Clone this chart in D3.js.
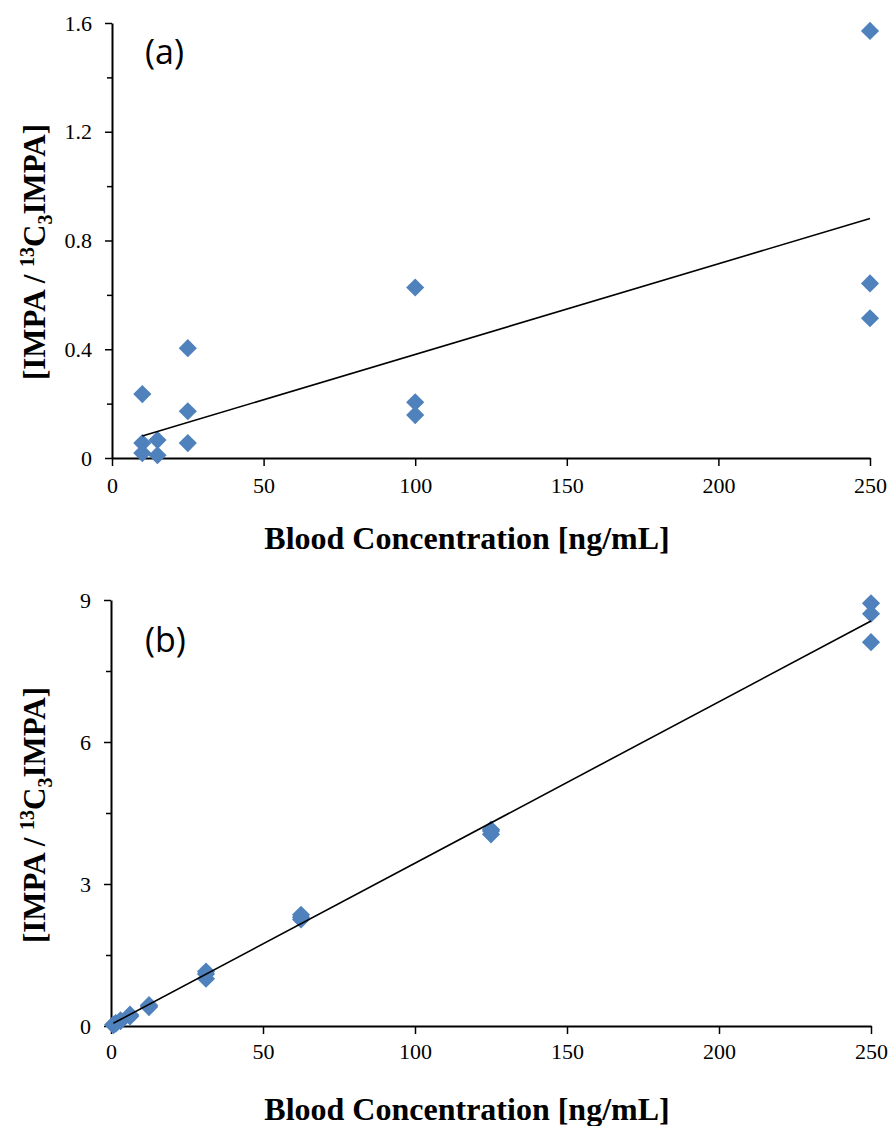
<!DOCTYPE html>
<html>
<head>
<meta charset="utf-8">
<script src="https://cdn.jsdelivr.net/npm/d3@7"></script>
<style>
  body { margin: 0; background: #fff; }
  svg { display: block; }
</style>
</head>
<body>
<svg id="chart"></svg>
<script>
// panel (a) values
const concA = [10, 10, 10, 15, 15, 25, 25, 25, 100, 100, 100, 250, 250, 250];
const ratioA = [0.235, 0.055, 0.018, 0.066, 0.01, 0.404, 0.172, 0.055, 0.627, 0.205, 0.158, 1.571, 0.642, 0.514];
const fitA = [0.003333, 0.0477];     // slope, intercept
const fitRangeA = [10, 250];
const yTicksA = [0, 0.4, 0.8, 1.2, 1.6];
const yMinorA = [0.2, 0.6, 1.0, 1.4];
const yLabelsA = ["0", "0.4", "0.8", "1.2", "1.6"];

// panel (b) values
const concB = [0.78, 0.78, 1.56, 1.56, 3.125, 3.125, 6.25, 6.25, 6.25, 12.5, 12.5, 12.5,
  31.25, 31.25, 31.25, 62.5, 62.5, 62.5, 125, 125, 125, 250, 250, 250];
const ratioB = [0.02, 0.03, 0.05, 0.06, 0.1, 0.12, 0.2, 0.22, 0.24, 0.4, 0.42, 0.44,
  1.0, 1.1, 1.15, 2.25, 2.3, 2.35, 4.05, 4.12, 4.15, 8.93, 8.71, 8.11];
const fitB = [0.0341, 0.03];
const fitRangeB = [0.78, 250];
const yTicksB = [0, 3, 6, 9];
const yMinorB = [1.5, 4.5, 7.5];
const yLabelsB = ["0", "3", "6", "9"];

const xTicks = [0, 50, 100, 150, 200, 250];

const serifFont = "'Liberation Serif', 'Times New Roman', serif";
const W = 892, H = 1126;
const svg = d3.select("#chart").attr("width", W).attr("height", H);

const panels = [
  { tag: "(a)", conc: concA, ratio: ratioA, fit: fitA, fitRange: fitRangeA,
    yTicks: yTicksA, yMinor: yMinorA, yLabels: yLabelsA, yMax: 1.6,
    xr: [112, 870], yr: [458, 23], tagY: 64, xTitleY: 549, yTitleY: 252, xPad: 11 },
  { tag: "(b)", conc: concB, ratio: ratioB, fit: fitB, fitRange: fitRangeB,
    yTicks: yTicksB, yMinor: yMinorB, yLabels: yLabelsB, yMax: 9,
    xr: [111, 871], yr: [1026, 600], tagY: 652, xTitleY: 1120, yTitleY: 815, xPad: 9 }
];

function styleTicks(s) {
  s.attr("font-family", serifFont).attr("font-size", 22);
  s.selectAll("text")
    .attr("font-family", serifFont)
    .attr("font-size", 22)
    .style("font-family", serifFont)
    .style("font-size", "22px")
    .attr("fill", "#000");
  s.selectAll("line").attr("stroke", "#000").attr("stroke-width", 1.5);
  s.select(".domain").attr("stroke", "#000").attr("stroke-width", 2);
}

panels.forEach(p => {
  const x = d3.scaleLinear().domain([0, 250]).range(p.xr);
  const y = d3.scaleLinear().domain([0, p.yMax]).range(p.yr);
  const g = svg.append("g");

  // minor y ticks
  g.append("g")
    .attr("transform", `translate(${p.xr[0]},0)`)
    .call(d3.axisLeft(y).tickValues(p.yMinor).tickSize(5).tickSizeOuter(0).tickFormat(""))
    .call(styleTicks)
    .call(s => s.select(".domain").remove());

  // y axis
  const yAxis = g.append("g")
    .attr("transform", `translate(${p.xr[0]},0)`)
    .call(d3.axisLeft(y).tickValues(p.yTicks).tickSize(7).tickSizeOuter(0).tickPadding(13)
      .tickFormat((d, i) => p.yLabels[i]));
  styleTicks(yAxis);

  // x axis
  const xAxis = g.append("g")
    .attr("transform", `translate(0,${p.yr[0]})`)
    .call(d3.axisBottom(x).tickValues(xTicks).tickSize(8).tickSizeOuter(0).tickPadding(p.xPad));
  styleTicks(xAxis);

  // points
  g.selectAll(".pt")
    .data(p.conc.map((c, i) => [c, p.ratio[i]]))
    .join("path")
    .attr("class", "pt")
    .attr("d", d3.symbol(d3.symbolSquare, 165))
    .attr("transform", d => `translate(${x(d[0])},${y(d[1])}) rotate(45)`)
    .attr("fill", "#4f81bd");

  // fitted line
  const line = d3.line().x(d => x(d)).y(d => y(p.fit[0] * d + p.fit[1]));
  g.append("path")
    .attr("d", line(p.fitRange))
    .attr("fill", "none")
    .attr("stroke", "#000")
    .attr("stroke-width", 1.6);

  // panel tag
  g.append("text")
    .attr("x", 145).attr("y", p.tagY)
    .style("font-family", "'Open Sans', 'Noto Sans', sans-serif")
    .style("font-size", "34px")
    .text(p.tag);

  // x title
  g.append("text")
    .attr("x", 467).attr("y", p.xTitleY)
    .attr("text-anchor", "middle")
    .style("font-family", serifFont)
    .style("font-weight", "bold")
    .style("font-size", "32px")
    .text("Blood Concentration [ng/mL]");

  // y title
  const yt = g.append("text")
    .attr("transform", `translate(45,${p.yTitleY}) rotate(-90)`)
    .attr("text-anchor", "middle")
    .style("font-family", serifFont)
    .style("font-weight", "bold")
    .style("font-size", "31px");
  yt.append("tspan").text("[IMPA / ");
  yt.append("tspan").attr("dy", -11).style("font-size", "20px").text("13");
  yt.append("tspan").attr("dy", 11).text("C");
  yt.append("tspan").attr("dy", 7).style("font-size", "20px").text("3");
  yt.append("tspan").attr("dy", -7).text("IMPA]");
});
</script>
</body>
</html>
